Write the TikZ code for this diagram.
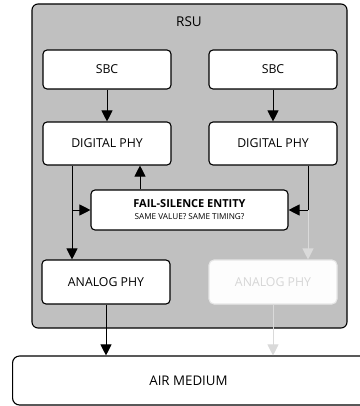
\documentclass[tikz,border=0pt]{standalone}
\usepackage{fontspec}
\setmainfont{Open Sans}
\usetikzlibrary{arrows.meta}
\definecolor{rsugray}{HTML}{C0C0C0}
\definecolor{fadeline}{HTML}{DADADA}
\definecolor{fadetext}{HTML}{D6D6D6}
\definecolor{fadeedge}{HTML}{E6E6E6}
\definecolor{fadefill}{HTML}{FDFDFD}
\begin{document}
\begin{tikzpicture}[x=1pt,y=-1pt,
  block/.style={draw=black,line width=1.1pt,fill=white,rounded corners=4pt,inner sep=0pt,font=\fontsize{12.3}{14}\selectfont},
  ghost/.style={draw=fadeedge,line width=1.1pt,fill=fadefill,rounded corners=5pt,inner sep=0pt,text=fadetext,font=\fontsize{12.3}{14}\selectfont},
  link/.style={line width=0.9pt,-{Triangle[length=11pt,width=11pt]}},
  fadelink/.style={line width=0.9pt,draw=fadeline,-{Triangle[length=11pt,width=11pt,fill=fadeline]}},
  plain/.style={line width=0.9pt}]
\useasboundingbox (0,0) rectangle (359,406);
% enclosing RSU unit
\node[draw=black,line width=1.1pt,fill=rsugray,rounded corners=6pt,minimum width=315pt,minimum height=324pt,inner sep=0pt] (rsu) at (189.5,166) {};
\node[font=\fontsize{13.5}{15}\selectfont] (rsulabel) at (189,22) {RSU};
% processing chains
\node[block,minimum width=128pt,minimum height=39pt] (sbcL) at (107,69.5) {SBC};
\node[block,minimum width=128pt,minimum height=39pt] (sbcR) at (273,69.5) {SBC};
\node[block,minimum width=128pt,minimum height=43pt] (dphyL) at (107,143.5) {DIGITAL PHY};
\node[block,minimum width=128pt,minimum height=43pt] (dphyR) at (273,143.5) {DIGITAL PHY};
\node[block,minimum width=197pt,minimum height=40pt,align=center] (fse) at (189.5,210)
  {{\fontsize{11}{12}\selectfont\bfseries FAIL-SILENCE ENTITY}\\[-2pt]{\fontsize{8.2}{9}\selectfont SAME VALUE? SAME TIMING?}};
\node[block,minimum width=128pt,minimum height=44pt] (aphyL) at (106,282) {ANALOG PHY};
\node[ghost,minimum width=128pt,minimum height=44pt] (aphyR) at (273,282) {ANALOG PHY};
% shared medium
\node[block,rounded corners=7pt,minimum width=360pt,minimum height=49pt,anchor=west] (air) at (12,380.5) {};
\node[font=\fontsize{13.3}{15}\selectfont] (airlabel) at (188.5,381) {AIR MEDIUM};
% junction points
\coordinate (jL) at (72,210);
\coordinate (jR) at (308,210);
% connectors
\draw[link] (sbcL) -- (dphyL);
\draw[link] (sbcR) -- (dphyR);
\draw[link] (fse.north -| 140,0) -- (dphyL.south -| 140,0);
\draw[link] (dphyL.south -| jL) -- (aphyL.north -| jL);
\draw[link] (jL) -- (fse.west);
\draw[fadelink] (jR) -- (aphyR.north -| jR);
\draw[plain] (dphyR.south -| jR) -- (jR);
\draw[link] (jR) -- (fse.east);
\draw[link] (aphyL) -- (air.north -| aphyL);
\draw[fadelink] (aphyR) -- (air.north -| aphyR);
\end{tikzpicture}
\end{document}
